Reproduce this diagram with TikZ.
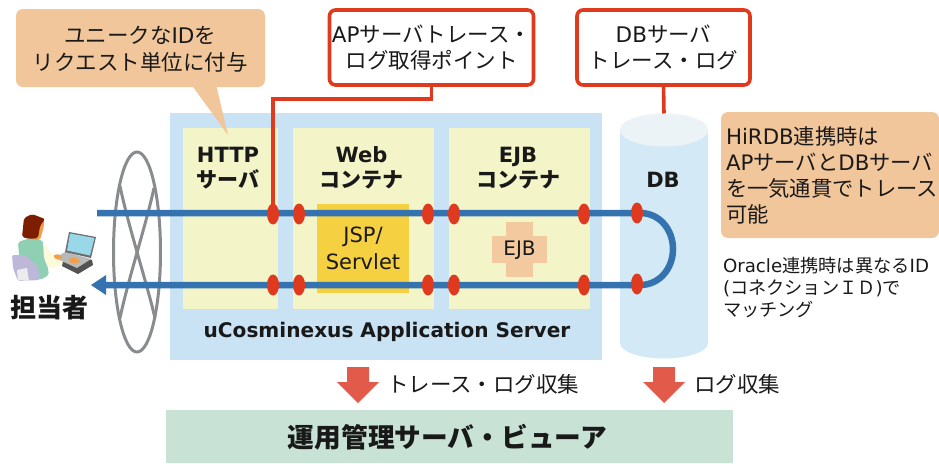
\documentclass[tikz,border=0pt]{standalone}
\usepackage{fontspec}
\setmainfont{Noto Sans CJK JP}
\newfontfamily\latf{DejaVu Sans}
\newcommand{\la}[1]{{\latf #1}}
\usetikzlibrary{arrows.meta,positioning,shapes.geometric}
\definecolor{peach}{HTML}{F2C69B}
\definecolor{outerblue}{HTML}{C9E3F5}
\definecolor{paley}{HTML}{F3F4C8}
\definecolor{redl}{HTML}{E03A1E}
\definecolor{bluel}{HTML}{3572B0}
\definecolor{greyl}{HTML}{888C8F}
\definecolor{viewer}{HTML}{C8E2D6}
\definecolor{arrowr}{HTML}{E25B4A}
\definecolor{dbside}{HTML}{D3E9F5}
\definecolor{dbtop}{HTML}{EBF3F6}
\definecolor{jsp}{HTML}{F5D040}
\definecolor{ejbc}{HTML}{F3C9A0}
\definecolor{vest}{HTML}{8FD0B4}
\definecolor{chair}{HTML}{BDB7D8}
\definecolor{skin}{HTML}{F0A04A}
\definecolor{hair}{HTML}{7E1E00}
\definecolor{screen}{HTML}{98D8E8}
\definecolor{sleeve}{HTML}{FBFBDC}
\tikzset{
  x=1pt,y=-1pt,
  every node/.style={inner sep=0pt,outer sep=0pt,align=center,text=black!90},
  jp/.style={font=\fontsize{21.5}{27}\selectfont},
  jpb/.style={font=\fontsize{21}{25}\selectfont\bfseries},
  peachbox/.style={fill=peach,rounded corners=7pt},
  redbox/.style={draw=redl,line width=3.6pt,fill=white,rounded corners=6pt},
  panel/.style={fill=paley},
  dot/.style={ellipse,fill=redl,minimum width=12pt,minimum height=21pt},
  trace/.style={draw=bluel,line width=6.5pt},
  redline/.style={draw=redl,line width=3.6pt},
  net/.style={draw=greyl,line width=3pt},
  soft/.style={rounded corners=2pt}
}
\begin{document}
\begin{tikzpicture}
\useasboundingbox (0,0) rectangle (939,463);
% outer panel
\node[fill=outerblue,minimum width=432pt,minimum height=247pt] (as) at (386,236.5) {};
\node[panel,minimum width=95pt,minimum height=181pt] (http) at (230.5,218.5) {};
\node[panel,minimum width=141pt,minimum height=181pt] (web) at (363.5,218.5) {};
\node[panel,minimum width=141pt,minimum height=181pt] (ejbp) at (519.5,218.5) {};
\node[jpb] (httpt) at (228,168) {\la{HTTP}\\サーバ};
\node[jpb] (webt) at (361.5,168) {\la{Web}\\コンテナ};
\node[jpb] (ejbt) at (518,168) {\la{EJB}\\コンテナ};
\node[font=\fontsize{20.1}{24}\selectfont\bfseries] (ast) at (387,332) {\la{uCosminexus Application Server}};
% callout
\fill[peach] (188,80) -- (215,80) -- (228,135) -- cycle;
\node[peachbox,minimum width=249pt,minimum height=78pt] (call) at (140.5,48) {};
\node[jp] (callt) at (140,49) {ユニークな\la{ID}を\\リクエスト単位に付与};
% DB cylinder
\fill[dbside] (620,130) rectangle (708,343);
\fill[dbside] (664,343) ellipse[x radius=44,y radius=15.5];
\node[ellipse,fill=dbtop,minimum width=88pt,minimum height=33pt] (dbtopn) at (664,130) {};
\node[jpb] (dbt) at (663,180) {\la{DB}};
% inner
\node[fill=jsp,minimum width=92pt,minimum height=89pt,font=\fontsize{21}{26.5}\selectfont] (jspn) at (363,248.5) {\la{JSP/}\\\la{Servlet}};
\fill[ejbc] (506,222) rectangle (533,277);
\fill[ejbc] (492,236) rectangle (547,263);
\node[font=\fontsize{20}{24}\selectfont] (ejbn) at (519.5,250) {\la{EJB}};
% network
\draw[net] (137,252) ellipse[x radius=23.5,y radius=100];
\draw[net] (120,186) .. controls (128,225) and (146,280) .. (155,318);
\draw[net] (154,188) .. controls (146,225) and (128,280) .. (120,318);
% person
\fill[vest,soft] (18,242) -- (30,238) -- (42,240) -- (44,245) -- (49,275) -- (40,280) -- (25,272) -- (19,255) -- cycle;
\fill[sleeve,soft] (43,242) -- (55,258) -- (65,262) -- (65,265) -- (55,267) -- (48,268) -- (44,258) -- cycle;
\fill[chair,soft] (12,255) -- (25,255) -- (38,267) -- (40,280) -- (18,281) -- (13,268) -- cycle;
\fill[white!85!gray] (17,270) -- (27,268) -- (29,281) -- (18,280) -- cycle;
\fill[skin,soft] (36,222) -- (44,219) -- (44,226) -- (42,233) -- (40,240) -- (33,240) -- cycle;
\fill[hair,soft] (22,237) -- (24,218) -- (32,214) -- (45,219) -- (40,226) -- (38,238) -- (30,239) -- cycle;
\fill[gray!65!black] (65,252) -- (92,260) -- (93,265) -- (78,274) -- (62,266) -- cycle;
\fill[gray!55] (55,258) -- (65,252) -- (91,259) -- (77,268) -- cycle;
\fill[gray!85!black] (69,232) -- (96,237) -- (91,258) -- (65,252) -- cycle;
\fill[screen] (70,233.5) -- (94.5,238) -- (90,255.5) -- (67,250.5) -- cycle;
\fill[skin,soft] (53,255) -- (60,254) -- (63,258) -- (56,260) -- cycle;
\fill[skin,soft] (68,259) -- (76,257) -- (81,262) -- (71,264) -- cycle;
\node[font=\fontsize{26}{30}\selectfont\bfseries] (person) at (49,308) {担当者};
% trace lines
\coordinate (ts) at (97,213);
\coordinate (te) at (640,213);
\coordinate (be) at (640,285);
\coordinate (tip) at (91,285);
\coordinate (neck) at (104,285);
\draw[trace] (ts) -- (te) .. controls (660,213) and (673,230) .. (673,249) .. controls (673,268) and (660,285) .. (be) -- (neck);
\fill[bluel] (tip) -- (106,275) -- (106,295) -- cycle;
\node[dot] (a1) at (273,214) {};
\node[dot] (a2) at (299,214) {};
\node[dot] (a3) at (428,214) {};
\node[dot] (a4) at (454,214) {};
\node[dot] (a5) at (584,214) {};
\node[dot] (a6) at (637,213) {};
\node[dot] (b1) at (273,285) {};
\node[dot] (b2) at (299,285) {};
\node[dot] (b3) at (428,285) {};
\node[dot] (b4) at (454,285) {};
\node[dot] (b5) at (584,285) {};
\node[dot] (b6) at (637,284) {};
% red boxes
\node[redbox,minimum width=204pt,minimum height=75pt,font=\fontsize{21.5}{26}\selectfont] (ap) at (431.5,47.5) {\la{AP}サーバトレース・\\ログ取得ポイント};
\node[redbox,minimum width=173pt,minimum height=75pt,font=\fontsize{21.5}{26}\selectfont] (dbb) at (663.5,47.5) {\la{DB}サーバ\\トレース・ログ};
\coordinate (bend) at (273,99);
\draw[redline] (ap.south) |- (bend) -- (a1);
\draw[redline] (dbb.south) -- (dbtopn.north);
% notes
\node[peachbox,minimum width=218pt,minimum height=126pt] (note) at (830,175) {};
\node[align=left,anchor=north west,font=\fontsize{21.3}{25.7}\selectfont] (notet) at (726,127) {\la{HiRDB}連携時は\\\la{AP}サーバと\la{DB}サーバ\\を一気通貫でトレース\\可能};
\node[align=left,anchor=north west,font=\fontsize{18.2}{22}\selectfont] (ora) at (723,257) {\la{Oracle}連携時は異なる\la{ID}\\\la{(}コネクションＩＤ\la{)}で\\マッチング};
% bottom
\node[fill=viewer,minimum width=567pt,minimum height=53pt,font=\fontsize{26.7}{32}\selectfont\bfseries] (view) at (449.5,436.5) {};
\node[font=\fontsize{26.7}{32}\selectfont\bfseries] (viewt) at (447.5,437) {運用管理サーバ・ビューア};
\fill[arrowr] (347,367) -- (369,367) -- (369,382) -- (379,382) -- (358,403) -- (337,382) -- (347,382) -- cycle;
\fill[arrowr] (653,367) -- (675,367) -- (675,382) -- (685,382) -- (664,403) -- (643,382) -- (653,382) -- cycle;
\node[jp,anchor=west] (l1) at (387,384) {トレース・ログ収集};
\node[jp,anchor=west] (l2) at (694,384) {ログ収集};
\end{tikzpicture}
\end{document}
